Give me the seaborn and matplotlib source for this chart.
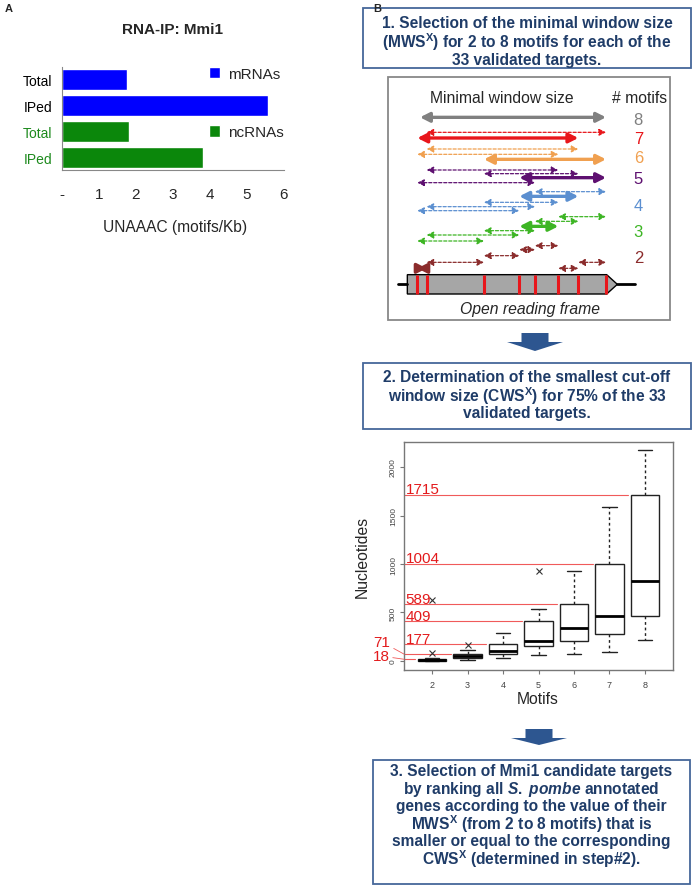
import numpy as np
import pandas as pd
import matplotlib.pyplot as plt
import matplotlib.patches as mpatches
import seaborn as sns

sns.set_style("white")
plt.rcParams['font.family'] = ['Liberation Sans', 'DejaVu Sans']
plt.rcParams['mathtext.fontset'] = 'custom'
plt.rcParams['mathtext.rm'] = 'Liberation Sans:bold'
plt.rcParams['mathtext.it'] = 'Liberation Sans:italic:bold'
plt.rcParams['mathtext.default'] = 'rm'

W, H = 693, 887

# panel A: motif density
rna_rows = ['Total', 'IPed', 'Total', 'IPed']
rna_type = ['mRNAs', 'mRNAs', 'ncRNAs', 'ncRNAs']
motif_density = [1.75, 5.58, 1.80, 3.82]
rna_colors = ['#0000ff', '#0b870b']

# panel B: minimal window size (nt) for 2..8 motifs, 33 validated targets
motif_counts = [2, 3, 4, 5, 6, 7, 8]
mws_2 = [0, 1, 2, 3, 4, 6, 8, 10, 14, 18, 33, 86, 625]
mws_3 = [14, 20, 26, 31, 36, 42, 48, 55, 63, 71, 90, 110, 166]
mws_4 = [31, 45, 58, 69, 80, 95, 107, 125, 150, 177, 220, 260, 286]
mws_5 = [59, 95, 130, 155, 170, 190, 210, 270, 340, 409, 470, 541, 924]
mws_6 = [76, 120, 170, 203, 250, 300, 341, 420, 510, 589, 700, 820, 931]
mws_7 = [93, 160, 230, 276, 340, 410, 466, 600, 800, 1004, 1200, 1400, 1590]
mws_8 = [214, 320, 400, 459, 560, 700, 828, 1050, 1400, 1715, 1900, 2050, 2178]
cws_cutoff = [18, 71, 177, 409, 589, 1004, 1715]

# schematic: motif positions on the ORF and windows drawn per row (top to bottom)
orf_motif_pos = [112, 140, 312, 418, 465, 535, 595, 678]
window_rows = [
    (8, [0]),
    (7, [1]), (7, [0]),
    (6, [1]), (6, [0]), (6, [2]),
    (5, [1]), (5, [2]), (5, [3]), (5, [0]),
    (4, [4]), (4, [3]), (4, [2]), (4, [1]), (4, [0]),
    (3, [5]), (3, [4]), (3, [3]), (3, [2]), (3, [1]), (3, [0]),
    (2, [4]), (2, [3]), (2, [2]), (2, [1, 6]), (2, [0, 5]),
]
row_y = [145, 190, 207, 240, 256, 271, 303, 314, 326, 341, 368, 382, 400, 413, 425,
         443, 457, 472, 485, 498, 516, 530, 542, 560, 580, 598]
min_window_start = {8: 0, 7: 0, 6: 2, 5: 3, 4: 3, 3: 3, 2: 0}
motif_colors = {8: '#808080', 7: '#e8161b', 6: '#f0a050', 5: '#5e1070',
                4: '#5b8fd0', 3: '#3db524', 2: '#8b2c2c'}
label_y = {8: 150, 7: 207, 6: 265, 5: 327, 4: 408, 3: 487, 2: 565}

navy = '#1f3c68'
box_edge = '#45679a'

fig = plt.figure(figsize=(6.93, 8.87), dpi=100)


def px_axes(left, top, right, bottom):
    return fig.add_axes([left / W, 1 - bottom / H, (right - left) / W, (bottom - top) / H])


# overlay in pixel coords for boxes, arrows and labels
ov = px_axes(0, 0, W, H)
ov.set_xlim(0, W)
ov.set_ylim(H, 0)
ov.axis('off')

ov.text(5, 9, 'A', fontsize=8, fontweight='bold', va='center')
ov.text(373, 9, 'B', fontsize=8, fontweight='bold', va='center')
ov.text(172, 30, 'RNA-IP: Mmi1', fontsize=11, fontweight='bold', ha='center', va='center')
ov.text(175, 228, 'UNAAAC (motifs/Kb)', fontsize=11.2, ha='center', va='center')

# ---- panel A
dfa = pd.DataFrame({'row': [t + ' ' + r for t, r in zip(rna_type, rna_rows)],
                    'type': rna_type, 'value': motif_density})
axa = px_axes(62, 68, 284, 171)
sns.barplot(data=dfa, x='value', y='row', hue='type', palette=rna_colors, dodge=False,
            width=0.82, saturation=1, ax=axa)
axa.set_xlim(0, 6)
axa.set_ylim(3.5, -0.5)
axa.set_xticks(range(7))
axa.set_xticklabels(['-', '1', '2', '3', '4', '5', '6'])
axa.set_yticks(range(4))
axa.set_yticklabels(rna_rows)
for lab, t in zip(axa.get_yticklabels(), rna_type):
    lab.set_color('black' if t == 'mRNAs' else '#1d8a1d')
axa.set_yticks([-0.5, 0.5, 1.5, 2.5, 3.5], minor=True)
axa.tick_params(axis='y', which='major', length=0, pad=7, labelsize=10)
axa.tick_params(axis='y', which='minor', length=4, color='#888', width=1)
axa.tick_params(axis='x', length=4, color='#888', width=1, labelsize=11, pad=8)
axa.set_xlabel('')
axa.set_ylabel('')
sns.despine(ax=axa)
for s in ['left', 'bottom']:
    axa.spines[s].set_color('#888')
handles, labels = axa.get_legend_handles_labels()
axa.legend(handles, labels, loc='upper left', bbox_to_anchor=(0.66, 1.0), frameon=False,
           labelspacing=2.9, handlelength=0.75, handleheight=0.75, handletextpad=0.5,
           fontsize=11, borderaxespad=0, borderpad=0)

# ---- panel B step boxes
def step_box(left, top, right, bottom, lines, line_y):
    ov.add_patch(mpatches.Rectangle((left, top), right - left, bottom - top, fill=False,
                                    edgecolor=box_edge, lw=1.3))
    cx = (left + right) / 2
    for txt, y in zip(lines, line_y):
        ov.text(cx, y, txt, color=navy, fontsize=11.2, fontweight='bold', ha='center', va='center')


step_box(363, 9, 691, 69,
         ['1. Selection of the minimal window size',
          r'(MWS$^{X}$) for 2 to 8 motifs for each of the',
          '33 validated targets.'],
         [24, 42, 60])
step_box(363, 364, 691, 430,
         ['2. Determination of the smallest cut-off',
          r'window size (CWS$^{X}$) for 75% of the 33',
          'validated targets.'],
         [378, 396, 414])
step_box(373, 761, 690, 885,
         ['3. Selection of Mmi1 candidate targets',
          r'by ranking all $\mathit{S.}$ $\mathit{pombe}$ annotated',
          'genes according to the value of their',
          r'MWS$^{X}$ (from 2 to 8 motifs) that is',
          'smaller or equal to the corresponding',
          r'CWS$^{X}$ (determined in step#2).'],
         [772, 789.5, 807, 824.5, 842, 859.5])

arrow_col = '#2d5690'
for cx, top, neck, tip in [(535, 334, 343, 352), (539, 730, 739, 746)]:
    ov.add_patch(mpatches.Polygon([(cx - 13.5, top), (cx + 13.5, top), (cx + 13.5, neck), (cx + 28, neck),
                                   (cx, tip), (cx - 28, neck), (cx - 13.5, neck)],
                                  closed=True, color=arrow_col, lw=0))

# ---- schematic of minimal windows
axd = px_axes(380, 70, 680, 330)
axd.set_xlim(0, 900)
axd.set_ylim(780, 0)
axd.axis('off')
axd.add_patch(mpatches.Rectangle((24, 24), 846, 729, fill=False, edgecolor='#888', lw=1.3))
axd.text(365, 84, 'Minimal window size', fontsize=11.3, ha='center', va='center')
axd.text(778, 84, '# motifs', fontsize=11.3, ha='center', va='center')
for (k, starts), y in zip(window_rows, row_y):
    for s in starts:
        solid = s == min_window_start[k]
        x1, x2 = orf_motif_pos[s], orf_motif_pos[s + k - 1]
        if k == 8:
            x1 = 120
        head = 'head_length=0.55,head_width=0.28' if solid else 'head_length=0.4,head_width=0.2'
        axd.annotate('', xy=(x2, y), xytext=(x1, y),
                     arrowprops=dict(arrowstyle='<|-|>,' + head,
                                     color=motif_colors[k], lw=2.4 if solid else 0.9,
                                     linestyle='-' if solid else (0, (2.5, 1.5)),
                                     shrinkA=0, shrinkB=0))
for k, y in label_y.items():
    axd.text(775, y, str(k), color=motif_colors[k], fontsize=12, ha='center', va='center')

axd.plot([55, 82], [646, 646], color='black', lw=2)
axd.plot([712, 765], [646, 646], color='black', lw=2)
axd.add_patch(mpatches.Polygon([(82, 617), (680, 617), (712, 646), (680, 675), (82, 675)],
                               closed=True, facecolor='#a6a6a6', edgecolor='black', lw=1))
for p in orf_motif_pos:
    axd.plot([p, p], [618, 674], color='#e8161b', lw=2.2, solid_capstyle='butt')
axd.text(450, 718, 'Open reading frame', fontsize=11.3, style='italic', ha='center', va='center')

# ---- boxplot of MWS per motif count
dfb = pd.DataFrame({
    'motifs': np.repeat(motif_counts, [len(v) for v in [mws_2, mws_3, mws_4, mws_5, mws_6, mws_7, mws_8]]),
    'nucleotides': mws_2 + mws_3 + mws_4 + mws_5 + mws_6 + mws_7 + mws_8,
})
axb = px_axes(404, 443, 673, 671)
sns.boxplot(data=dfb, x='motifs', y='nucleotides', ax=axb, color='white', linecolor='#222',
            linewidth=1, width=0.8, whis=1.5,
            flierprops=dict(marker='x', markersize=4, markeredgecolor='#333', markeredgewidth=0.8),
            whiskerprops=dict(linestyle=(0, (2, 2))),
            medianprops=dict(linewidth=2, color='black'))
axb.set_xlim(-0.79, 6.79)
axb.set_ylim(-93, 2258)
for i, c in enumerate(cws_cutoff):
    axb.plot([-0.79, i - 0.47], [c, c], color='#f05a5a', lw=0.8, zorder=1)
    if c > 100:
        axb.text(-0.74, c + 12, str(c), color='#e31a1c', fontsize=11, ha='left', va='baseline')
axb.annotate('71', xy=(-0.79, 71), xytext=(382, H - 643), textcoords='figure pixels',
             color='#e31a1c', fontsize=11, ha='center', va='center',
             arrowprops=dict(arrowstyle='-', color='#f05a5a', lw=0.6, shrinkA=0, shrinkB=0))
axb.annotate('18', xy=(-0.79, 18), xytext=(381, H - 657), textcoords='figure pixels',
             color='#e31a1c', fontsize=11, ha='center', va='center',
             arrowprops=dict(arrowstyle='-', color='#f05a5a', lw=0.6, shrinkA=0, shrinkB=0))
axb.set_yticks([0, 500, 1000, 1500, 2000])
axb.set_yticklabels(['0', '500', '1000', '1500', '2000'], rotation=90, va='center')
axb.tick_params(axis='y', length=3, color='#777', labelsize=6, labelcolor='#444', pad=2, left=True)
axb.tick_params(axis='x', length=3, color='#777', labelsize=6.5, labelcolor='#444', pad=4, bottom=True)
axb.set_xlabel('')
axb.set_ylabel('')
for s in axb.spines.values():
    s.set_color('#777')
    s.set_linewidth(1)
ov.text(362.5, 557, 'Nucleotides', rotation=90, fontsize=11.3, ha='center', va='center')
ov.text(538, 700, 'Motifs', fontsize=11.3, ha='center', va='center')

fig.savefig('out.png', dpi=100)
